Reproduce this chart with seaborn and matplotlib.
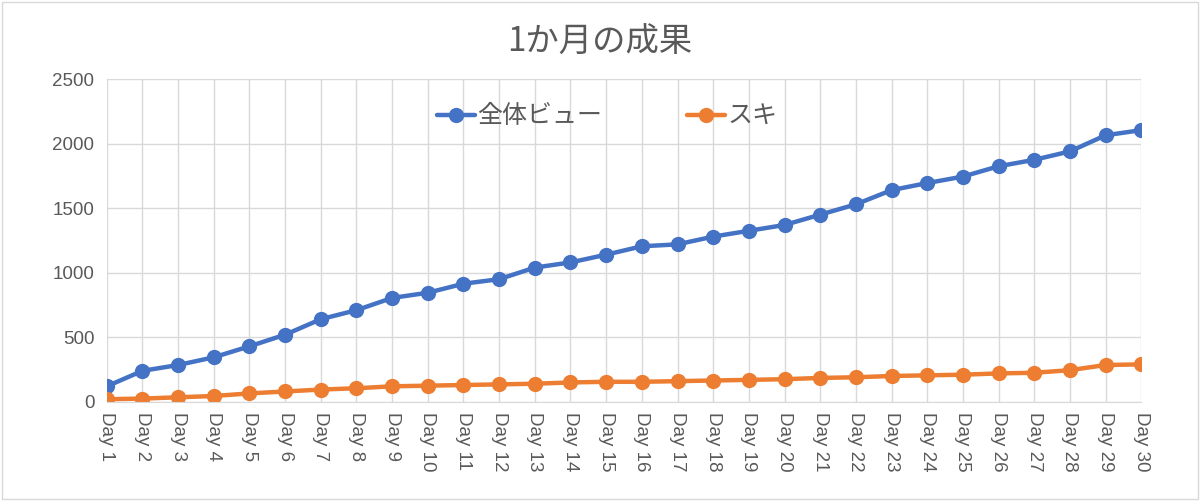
import pandas as pd
import matplotlib.pyplot as plt
import seaborn as sns
from matplotlib.patches import Rectangle

# ---------------------------------
# DATA
# ---------------------------------
days = [f"Day {i}" for i in range(1, 31)]

views = [120, 240, 285, 345, 430, 520, 640, 710, 805, 845,
         915, 950, 1040, 1080, 1140, 1205, 1220, 1280, 1325, 1370,
         1450, 1530, 1640, 1695, 1745, 1825, 1875, 1940, 2065, 2105]

likes = [20, 25, 35, 45, 65, 80, 95, 105, 120, 125,
         130, 135, 140, 150, 155, 155, 160, 165, 170, 175,
         185, 190, 200, 205, 210, 220, 225, 245, 285, 290]

series_names = ["全体ビュー", "スキ"]
title = "1か月の成果"

df = pd.DataFrame({
    "day": days * 2,
    "value": views + likes,
    "series": [series_names[0]] * len(days) + [series_names[1]] * len(days),
})

# ---------------------------------
# STYLE
# ---------------------------------
sns.set_style("white")
plt.rcParams['font.family'] = ['Noto Sans CJK JP', 'DejaVu Sans']

text_gray = "#595959"
grid_gray = "#D9D9D9"
palette = {series_names[0]: "#4472C4", series_names[1]: "#ED7D31"}

fig = plt.figure(figsize=(12, 5.01), dpi=100)
ax = fig.add_axes([0.089, 0.198, 0.862, 0.644])

sns.lineplot(data=df, x="day", y="value", hue="series", palette=palette,
             marker="o", markersize=11, markeredgewidth=0, linewidth=3.2,
             sort=False, ax=ax)

ax.set_xlim(0, len(days) - 1)
ax.set_ylim(0, 2500)
ax.set_yticks(range(0, 2501, 500))
ax.set_xlabel("")
ax.set_ylabel("")

ax.grid(True, color=grid_gray, linewidth=1)
ax.set_axisbelow(True)
for side in ["top", "right", "left"]:
    ax.spines[side].set_visible(False)
ax.spines["bottom"].set_color(grid_gray)

ax.tick_params(axis="both", length=0, colors=text_gray)
ax.tick_params(axis="x", pad=7)
ax.tick_params(axis="y", pad=9)
for lbl in ax.get_yticklabels():
    lbl.set_fontfamily("Liberation Sans")
    lbl.set_fontsize(13.5)
for lbl in ax.get_xticklabels():
    lbl.set_fontfamily("Liberation Sans")
    lbl.set_fontsize(13.5)
    lbl.set_rotation(-90)
    lbl.set_va("top")
    lbl.set_ha("center")

fig.text(0.5, 0.915, title, fontsize=24, color=text_gray, ha="center", va="center")

leg = ax.legend(loc="center", bbox_to_anchor=(0.484, 0.885), ncol=2,
                frameon=False, fontsize=18, handlelength=1.5,
                handletextpad=0.1, columnspacing=3.4)
for t in leg.get_texts():
    t.set_color(text_gray)

# light border around the chart
fig.patches.append(Rectangle((0.002, 0.003), 0.996, 0.994, transform=fig.transFigure,
                             fill=False, edgecolor="#D9D9D9", linewidth=1))

plt.savefig("out.png", dpi=100)
